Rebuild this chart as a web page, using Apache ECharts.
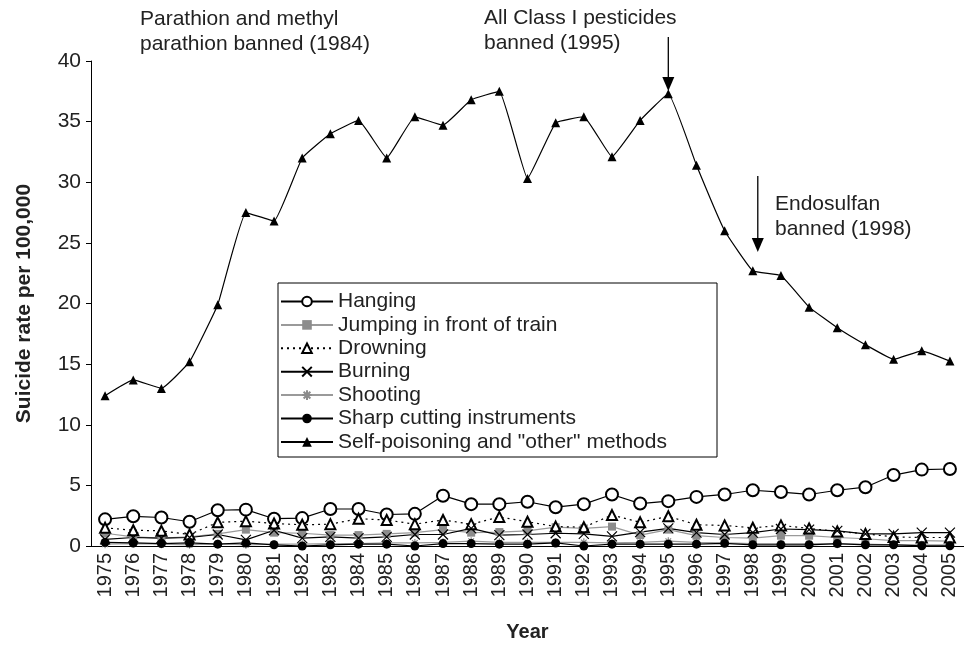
<!DOCTYPE html>
<html>
<head>
<meta charset="utf-8">
<script src="https://cdn.jsdelivr.net/npm/echarts@6/dist/echarts.min.js"></script>
<style>
  html, body { margin: 0; padding: 0; background: #fff; }
  #main { width: 964px; height: 647px; }
</style>
</head>
<body>
<div id="main"></div>
<script>
// years on the x axis
var years = ['1975', '1976', '1977', '1978', '1979', '1980', '1981', '1982', '1983', '1984',
  '1985', '1986', '1987', '1988', '1989', '1990', '1991', '1992', '1993', '1994', '1995',
  '1996', '1997', '1998', '1999', '2000', '2001', '2002', '2003', '2004', '2005'];

// suicide rate per 100,000
var hanging = [2.2, 2.45, 2.35, 2.0, 2.95, 3.0, 2.25, 2.3, 3.05, 3.05, 2.6, 2.65, 4.15, 3.45, 3.45,
  3.65, 3.2, 3.45, 4.25, 3.5, 3.7, 4.05, 4.25, 4.6, 4.45, 4.25, 4.6, 4.85, 5.85, 6.3, 6.35];
var jumping = [1.05, 0.75, 0.65, 0.75, 1.0, 1.35, 1.1, 1.05, 0.9, 0.9, 1.0, 1.1, 1.35, 1.1, 1.15,
  1.25, 1.55, 1.45, 1.6, 0.9, 1.35, 0.85, 0.7, 0.65, 0.85, 0.85, 0.7, 0.6, 0.45, 0.45, 0.4];
var drowning = [1.5, 1.3, 1.25, 0.95, 1.95, 2.05, 1.85, 1.75, 1.8, 2.25, 2.15, 1.8, 2.15, 1.8, 2.4,
  2.0, 1.6, 1.55, 2.55, 1.95, 2.45, 1.75, 1.7, 1.5, 1.7, 1.45, 1.2, 1.0, 0.75, 0.7, 0.7];
var burning = [0.55, 0.7, 0.65, 0.7, 0.95, 0.5, 1.3, 0.65, 0.75, 0.65, 0.75, 0.95, 0.95, 1.45, 0.9,
  0.95, 1.05, 1.0, 0.8, 1.15, 1.45, 1.1, 0.95, 1.1, 1.4, 1.35, 1.25, 1.0, 1.0, 1.1, 1.1];
var shooting = [0.15, 0.2, 0.15, 0.1, 0.2, 0.1, 0.15, 0.15, 0.2, 0.2, 0.25, 0.25, 0.3, 0.4, 0.3,
  0.3, 0.3, 0.3, 0.25, 0.3, 0.4, 0.3, 0.25, 0.2, 0.2, 0.2, 0.15, 0.15, 0.1, 0.1, 0.1];
var sharp = [0.3, 0.25, 0.2, 0.25, 0.15, 0.25, 0.1, 0.0, 0.1, 0.15, 0.15, 0.0, 0.2, 0.2, 0.15,
  0.15, 0.25, 0.0, 0.15, 0.15, 0.15, 0.15, 0.22, 0.1, 0.1, 0.1, 0.2, 0.1, 0.1, 0.02, 0.02];
var poisoning = [12.4, 13.7, 13.0, 15.2, 19.9, 27.5, 26.8, 32.0, 34.0, 35.1, 32.0, 35.4, 34.7, 36.8, 37.5,
  30.3, 34.9, 35.4, 32.1, 35.1, 37.3, 31.4, 26.0, 22.7, 22.3, 19.7, 18.0, 16.6, 15.4, 16.1, 15.25];

var FONT = '"Liberation Sans", Arial, Helvetica, sans-serif';
var crossPath = 'path://M0,0L10,10M10,0L0,10';
var starPath = 'path://M0,5L10,5M5,0L5,10M1.5,1.5L8.5,8.5M8.5,1.5L1.5,8.5';

function line(name, data, opts) {
  return Object.assign({
    name: name,
    type: 'line',
    data: data,
    symbolSize: 9,
    lineStyle: { color: '#000', width: 1.2 },
    itemStyle: { color: '#000' },
    emphasis: { disabled: true },
    animation: false
  }, opts);
}

var chart = echarts.init(document.getElementById('main'));

var option = {
  animation: false,
  textStyle: { fontFamily: FONT },
  grid: { left: 91, top: 61, width: 876, height: 486 },
  legend: {
    orient: 'vertical',
    left: 280,
    top: 291,
    padding: 0,
    itemWidth: 52,
    itemHeight: 12,
    itemGap: 2.4,
    textStyle: { fontSize: 21, color: '#222', fontFamily: FONT, lineHeight: 20 },
    data: ['Hanging', 'Jumping in front of train', 'Drowning', 'Burning', 'Shooting',
      'Sharp cutting instruments', 'Self-poisoning and "other" methods']
  },
  xAxis: {
    type: 'category',
    data: years,
    name: 'Year',
    nameLocation: 'middle',
    nameGap: 76,
    nameTextStyle: { fontSize: 20, fontWeight: 'bold', color: '#222', fontFamily: FONT },
    axisLine: { lineStyle: { color: '#000', width: 1 } },
    axisTick: { length: 5, lineStyle: { color: '#000' } },
    axisLabel: { rotate: 90, interval: 0, fontSize: 20, color: '#222', margin: 7, fontFamily: FONT }
  },
  yAxis: {
    type: 'value',
    min: 0,
    max: 40,
    interval: 5,
    name: 'Suicide rate per 100,000',
    nameLocation: 'middle',
    nameGap: 56,
    nameTextStyle: { fontSize: 21, fontWeight: 'bold', color: '#222', fontFamily: FONT },
    axisLine: { show: true, lineStyle: { color: '#000', width: 1 } },
    axisTick: { show: true, length: 5, lineStyle: { color: '#000' } },
    splitLine: { show: false },
    axisLabel: { fontSize: 21, color: '#222', margin: 10, fontFamily: FONT }
  },
  series: [
    line('Hanging', hanging, { symbol: 'emptyCircle', symbolSize: 12 }),
    line('Jumping in front of train', jumping, {
      symbol: 'rect', symbolSize: 8,
      lineStyle: { color: '#9a9a9a', width: 1.2 },
      itemStyle: { color: '#8c8c8c' }
    }),
    line('Drowning', drowning, {
      symbol: 'emptyTriangle', symbolSize: 10,
      lineStyle: { color: '#000', width: 1.2, type: [2, 4] }
    }),
    line('Burning', burning, {
      symbol: crossPath, symbolSize: 10,
      itemStyle: { color: 'none', borderColor: '#000', borderWidth: 1.2 }
    }),
    line('Shooting', shooting, {
      symbol: starPath, symbolSize: 8,
      lineStyle: { color: '#9a9a9a', width: 1.2 },
      itemStyle: { color: 'none', borderColor: '#8c8c8c', borderWidth: 1.2 }
    }),
    line('Sharp cutting instruments', sharp, { symbol: 'circle', symbolSize: 9 }),
    line('Self-poisoning and "other" methods', poisoning, {
      symbol: 'triangle', symbolSize: 9, smooth: 0.1
    })
  ]
};

chart.setOption(option);

// arrows and notes, placed from the axis scale
var x1995 = chart.convertToPixel({ xAxisIndex: 0 }, '1995');
var x1998 = chart.convertToPixel({ xAxisIndex: 0 }, '1998') + 5;

function arrow(x, y0, y1) {
  return [
    { type: 'line', shape: { x1: x, y1: y0, x2: x, y2: y1 - 10 }, style: { stroke: '#000', lineWidth: 1.3 } },
    { type: 'polygon', shape: { points: [[x - 6, y1 - 14], [x + 6, y1 - 14], [x, y1]] }, style: { fill: '#000' } }
  ];
}

var noteStyle = { fill: '#222', font: '21px ' + FONT, lineHeight: 25, verticalAlign: 'top' };

chart.setOption({
  graphic: [
    { type: 'rect', shape: { x: 278, y: 283, width: 439, height: 174 }, style: { fill: 'none', stroke: '#000', lineWidth: 1 }, z: 0 },
    { type: 'text', x: 140, y: 7, style: Object.assign({ text: 'Parathion and methyl\nparathion banned (1984)' }, noteStyle) },
    { type: 'text', x: 484, y: 6, style: Object.assign({ text: 'All Class I pesticides\nbanned (1995)' }, noteStyle) },
    { type: 'text', x: 775, y: 192, style: Object.assign({ text: 'Endosulfan\nbanned (1998)', lineHeight: 24 }, noteStyle) }
  ].concat(arrow(x1995, 37, 91)).concat(arrow(x1998, 176, 252))
});
</script>
</body>
</html>
